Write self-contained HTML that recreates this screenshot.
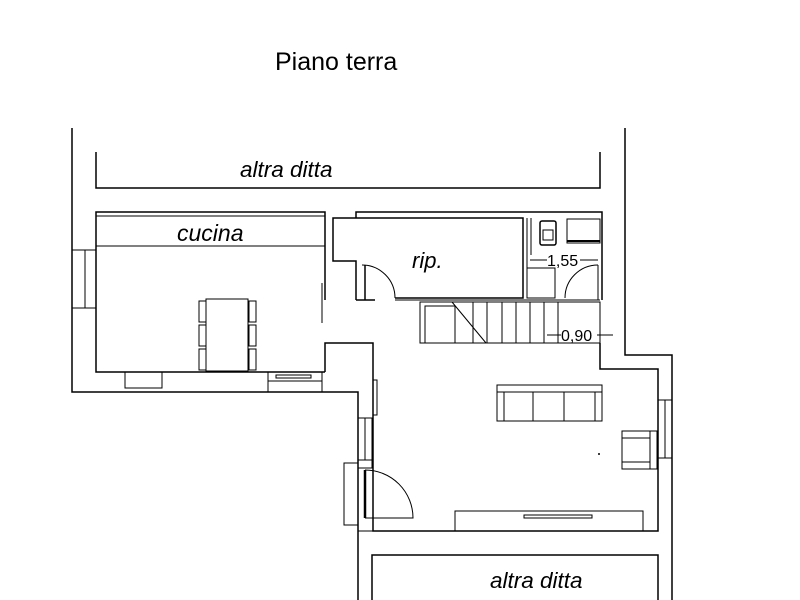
<!DOCTYPE html>
<html><head><style>html,body{margin:0;padding:0;background:#fff}svg{display:block}</style></head>
<body>
<svg width="800" height="600" viewBox="0 0 800 600" xmlns="http://www.w3.org/2000/svg" font-family="Liberation Sans, sans-serif">
<g fill="none" stroke="#000" stroke-width="1.5">
<polyline points="72,128 72,392 358,392 358,600"/>
<polyline points="625,128 625,355 672,355 672,600"/>
<polyline points="96,152 96,188 600,188 600,152"/>
<polyline points="372,600 372,555 658,555 658,600"/>
<polyline points="325,300 325,212 96,212 96,372 325,372"/>
<line x1="96" y1="216" x2="325" y2="216" stroke-width="1"/>
<line x1="96" y1="246" x2="325" y2="246" stroke-width="1"/>
<rect x="72" y="250" width="24" height="58" stroke-width="1"/>
<line x1="85" y1="250" x2="85" y2="308" stroke-width="1"/>
<rect x="206" y="299" width="42" height="72" stroke-width="1"/>
<rect x="199" y="301" width="7" height="21" stroke-width="1"/>
<rect x="199" y="325" width="7" height="21" stroke-width="1"/>
<rect x="199" y="349" width="7" height="21" stroke-width="1"/>
<rect x="249" y="301" width="7" height="21" stroke-width="1"/>
<rect x="249" y="325" width="7" height="21" stroke-width="1"/>
<rect x="249" y="349" width="7" height="21" stroke-width="1"/>
<rect x="125" y="372" width="37" height="16" stroke-width="1"/>
<line x1="322" y1="283" x2="322" y2="323" stroke="#555"/>
<rect x="268" y="372" width="54" height="20" stroke-width="1"/>
<line x1="268" y1="381" x2="322" y2="381" stroke-width="1"/>
<rect x="276" y="375" width="35" height="3" stroke-width="1"/>
<polyline points="325,372 325,343 373,343 373,531 658,531 658,369 600,369 600,343"/>
<polyline points="356,300 356,261 333,261 333,218 523,218 523,298 395,298"/>
<polyline points="356,218 356,212 602,212 602,300"/>
<line x1="365" y1="265" x2="365" y2="300"/>
<path d="M362,265 A33,33 0 0 1 395,298" stroke-width="1"/>
<line x1="356" y1="300" x2="375" y2="300"/>
<line x1="395" y1="300" x2="600" y2="300" stroke-width="1"/>
<line x1="527" y1="218" x2="527" y2="298" stroke-width="1"/>
<line x1="531" y1="218" x2="531" y2="255" stroke-width="1"/>
<rect x="540" y="221" width="16" height="24" rx="2" stroke-width="1.5"/>
<rect x="543" y="230" width="10" height="10" stroke-width="1"/>
<rect x="567" y="219" width="33" height="24" stroke-width="1"/>
<line x1="567" y1="241" x2="600" y2="241" stroke-width="2"/>
<line x1="530" y1="260" x2="547" y2="260" stroke-width="1"/>
<line x1="580" y1="260" x2="598" y2="260" stroke-width="1"/>
<rect x="527" y="268" width="28" height="30" stroke-width="1"/>
<path d="M598,265 A33,33 0 0 0 565,298" stroke-width="1"/>
<line x1="598" y1="265" x2="598" y2="300" stroke-width="1"/>
<rect x="420" y="302" width="180" height="41" stroke-width="1"/>
<rect x="425" y="306" width="30" height="37" stroke-width="1"/>
<line x1="452" y1="302" x2="486" y2="343" stroke-width="1"/>
<g stroke-width="1">
<line x1="473" y1="302" x2="473" y2="343"/><line x1="487" y1="302" x2="487" y2="343"/><line x1="502" y1="302" x2="502" y2="343"/><line x1="516" y1="302" x2="516" y2="343"/><line x1="530" y1="302" x2="530" y2="343"/><line x1="544" y1="302" x2="544" y2="343"/><line x1="558" y1="302" x2="558" y2="343"/>
<line x1="547" y1="335" x2="561" y2="335"/><line x1="597" y1="335" x2="613" y2="335"/>
</g>
<rect x="497" y="385" width="105" height="36" stroke-width="1"/>
<line x1="497" y1="392" x2="602" y2="392" stroke-width="1"/>
<line x1="504" y1="392" x2="504" y2="421" stroke-width="1"/>
<line x1="533" y1="392" x2="533" y2="421" stroke-width="1"/>
<line x1="564" y1="392" x2="564" y2="421" stroke-width="1"/>
<line x1="595" y1="392" x2="595" y2="421" stroke-width="1"/>
<rect x="622" y="431" width="35" height="38" stroke-width="1"/>
<line x1="622" y1="438" x2="650" y2="438" stroke-width="1"/><line x1="622" y1="462" x2="650" y2="462" stroke-width="1"/><line x1="650" y1="431" x2="650" y2="469" stroke-width="1"/>
<rect x="658" y="400" width="14" height="58" stroke-width="1"/>
<line x1="665" y1="400" x2="665" y2="458" stroke-width="1"/>
<rect x="455" y="511" width="188" height="20" stroke-width="1"/>
<rect x="524" y="515" width="68" height="3" stroke-width="1"/>
<rect x="373" y="380" width="4" height="35" stroke-width="1"/>
<rect x="358" y="418" width="14" height="42" stroke-width="1"/>
<line x1="365" y1="418" x2="365" y2="460" stroke-width="1"/>
<rect x="344" y="463" width="14" height="62" stroke-width="1"/>
<rect x="358" y="460" width="14" height="8" stroke-width="1"/>
<line x1="365" y1="470" x2="365" y2="518" stroke-width="2.5"/>
<path d="M365,470 A48,48 0 0 1 413,518 L365,518" stroke-width="1"/>
<line x1="358" y1="531" x2="373" y2="531" stroke-width="1"/>
</g>
<circle cx="599" cy="454" r="1" fill="#000"/>
<g fill="#000">
<text x="275" y="70" font-size="25">Piano terra</text>
<text x="240" y="177" font-size="22.5" font-style="italic">altra ditta</text>
<text x="490" y="588" font-size="22.5" font-style="italic">altra ditta</text>
<text x="177" y="241" font-size="23" font-style="italic">cucina</text>
<text x="412" y="268" font-size="22" font-style="italic">rip.</text>
<text x="547" y="266" font-size="16">1,55</text>
<text x="561" y="341" font-size="16">0,90</text>
</g>
</svg>
</body></html>
